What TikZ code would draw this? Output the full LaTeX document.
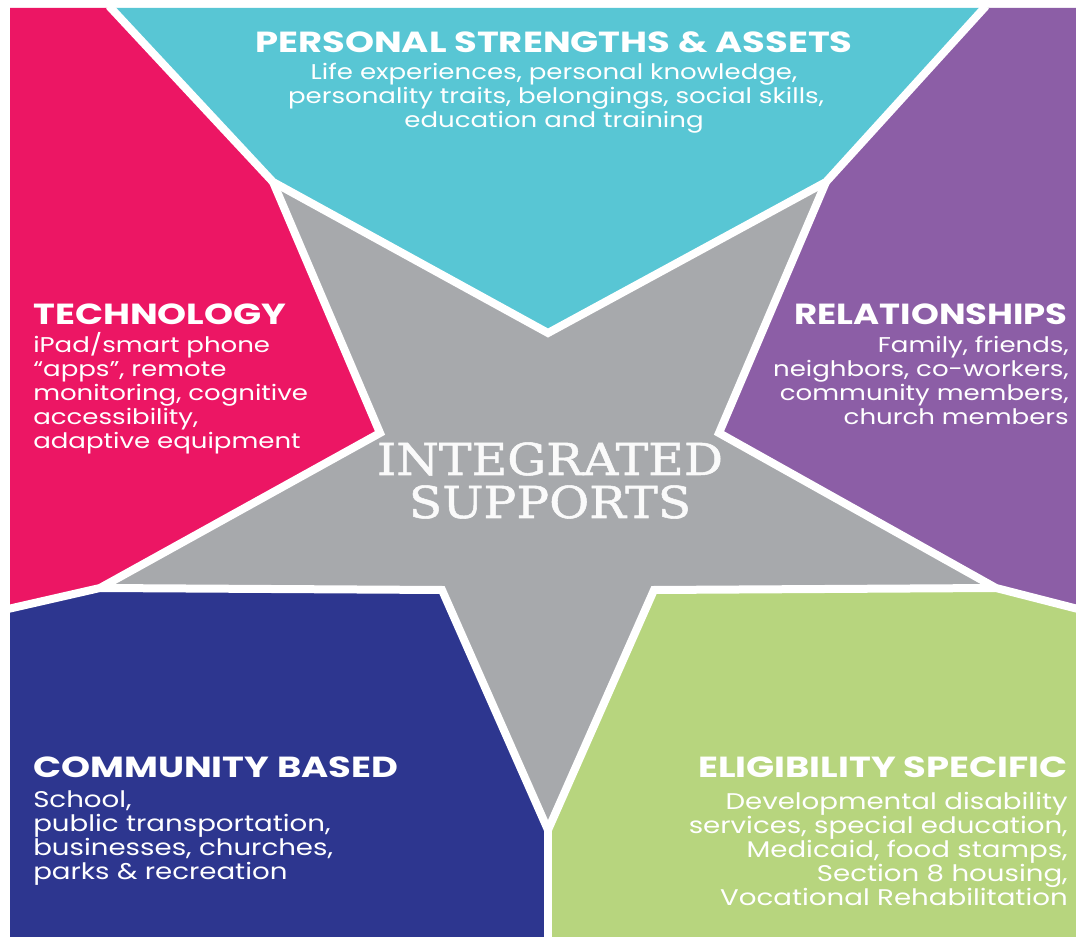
\documentclass[tikz,border=0pt]{standalone}
\usepackage{fontspec}
\setmainfont{Poppins}
\newfontfamily\ttlfont[FakeStretch=1.27]{Poppins}
\newfontfamily\bdyfont[FakeStretch=1.22]{Poppins}
\newfontfamily\serifc[FakeStretch=1.11,FakeBold=1.2]{DejaVu Serif}
\definecolor{cteal}{HTML}{58C6D4}
\definecolor{cpink}{HTML}{EC1664}
\definecolor{cpurple}{HTML}{8C5EA6}
\definecolor{cnavy}{HTML}{2D368F}
\definecolor{cgreen}{HTML}{B7D57E}
\definecolor{cgray}{HTML}{A7A9AC}
\tikzset{
  sep/.style={draw=white, line width=6pt, line join=miter},
  ttl/.style={text=white, inner sep=0pt, font=\ttlfont\bfseries\fontsize{21.8}{24}\selectfont},
  bdy/.style={text=white, inner sep=0pt, font=\bdyfont\fontsize{16}{18}\selectfont},
  bdyb/.style={text=white, inner sep=0pt, font=\bdyfont\fontsize{17}{18}\selectfont},
  ctr/.style={text=white!96!gray, inner sep=0pt, text height=24pt, text depth=0pt, font=\serifc\fontsize{33}{36}\selectfont},
}
\begin{document}
\begin{tikzpicture}[x=0.75pt,y=-0.75pt]
\useasboundingbox (0,0) rectangle (1076,937);
\fill[white] (0,0) rectangle (1076,937);
% regions
\fill[cteal] (109,8) -- (986,8) -- (826,182) -- (548,333) -- (273,182) -- cycle;
\fill[cpink] (10,8) -- (109,8) -- (273,182) -- (380,433) -- (100,588) -- (10,608) -- cycle;
\fill[cpurple] (986,8) -- (1076,8) -- (1076,608) -- (996,588) -- (719,433) -- (826,182) -- cycle;
\fill[cnavy] (10,608) -- (100,588) -- (442,590) -- (548,830) -- (548,937) -- (10,937) -- cycle;
\fill[cgreen] (548,937) -- (548,830) -- (654,590) -- (996,588) -- (1076,608) -- (1076,937) -- cycle;
\fill[cgray] (273,182) -- (548,333) -- (826,182) -- (719,433) -- (996,588) -- (654,590) -- (548,830) -- (442,590) -- (100,588) -- (380,433) -- cycle;
% separators
\draw[sep] (109,6) -- (273,182) -- (548,333) -- (826,182) -- (986,6);
\draw[sep] (273,182) -- (380,433) -- (100,588) -- (8,609);
\draw[sep] (826,182) -- (719,433) -- (996,588) -- (1078,609);
\draw[sep] (100,588) -- (442,590) -- (548,830) -- (654,590) -- (996,588);
\draw[sep] (548,830) -- (548,939);
% top
\node[ttl, anchor=base] (pt) at (554,53) {PERSONAL STRENGTHS \& ASSETS};
\node[bdy, anchor=base] (p1) at (554,80) {Life experiences, personal knowledge,};
\node[bdy, anchor=base] (p2) at (556,104) {personality traits, belongings, social skills,};
\node[bdy, anchor=base] (p3) at (554,128) {education and training};
% technology
\node[ttl, anchor=base west] (tt) at (33,325) {TECHNOLOGY};
\node[bdy, anchor=base west] (t1) at (33,353) {iPad/smart phone};
\node[bdy, anchor=base west] (t2) at (33,377) {“apps”, remote};
\node[bdy, anchor=base west] (t3) at (33,401) {monitoring, cognitive};
\node[bdy, anchor=base west] (t4) at (33,425) {accessibility,};
\node[bdy, anchor=base west] (t5) at (33,449) {adaptive equipment};
% relationships
\node[ttl, anchor=base east, xscale=0.96] (rt) at (1068,325) {RELATIONSHIPS};
\node[bdy, anchor=base east] (r1) at (1069,353) {Family, friends,};
\node[bdy, anchor=base east] (r2) at (1069,377) {neighbors, co-workers,};
\node[bdy, anchor=base east] (r3) at (1069,401) {community members,};
\node[bdy, anchor=base east] (r4) at (1069,425) {church members};
% community
\node[ttl, anchor=base west] (ct) at (33,778) {COMMUNITY BASED};
\node[bdyb, anchor=base west] (c1) at (33,808) {School,};
\node[bdyb, anchor=base west] (c2) at (33,832) {public transportation,};
\node[bdyb, anchor=base west] (c3) at (33,856) {businesses, churches,};
\node[bdyb, anchor=base west] (c4) at (33,880) {parks \& recreation};
% eligibility
\node[ttl, anchor=base east] (et) at (1068,778) {ELIGIBILITY SPECIFIC};
\node[bdyb, anchor=base east] (e1) at (1068,810) {Developmental disability};
\node[bdyb, anchor=base east] (e2) at (1068,834) {services, special education,};
\node[bdyb, anchor=base east] (e3) at (1068,858) {Medicaid, food stamps,};
\node[bdyb, anchor=base east] (e4) at (1068,882) {Section 8 housing,};
\node[bdyb, anchor=base east] (e5) at (1068,906) {Vocational Rehabilitation};
% center
\node[ctr, anchor=base] (i1) at (550,475) {INTEGRATED};
\node[ctr, anchor=base] (i2) at (550,518) {SUPPORTS};
\end{tikzpicture}
\end{document}
